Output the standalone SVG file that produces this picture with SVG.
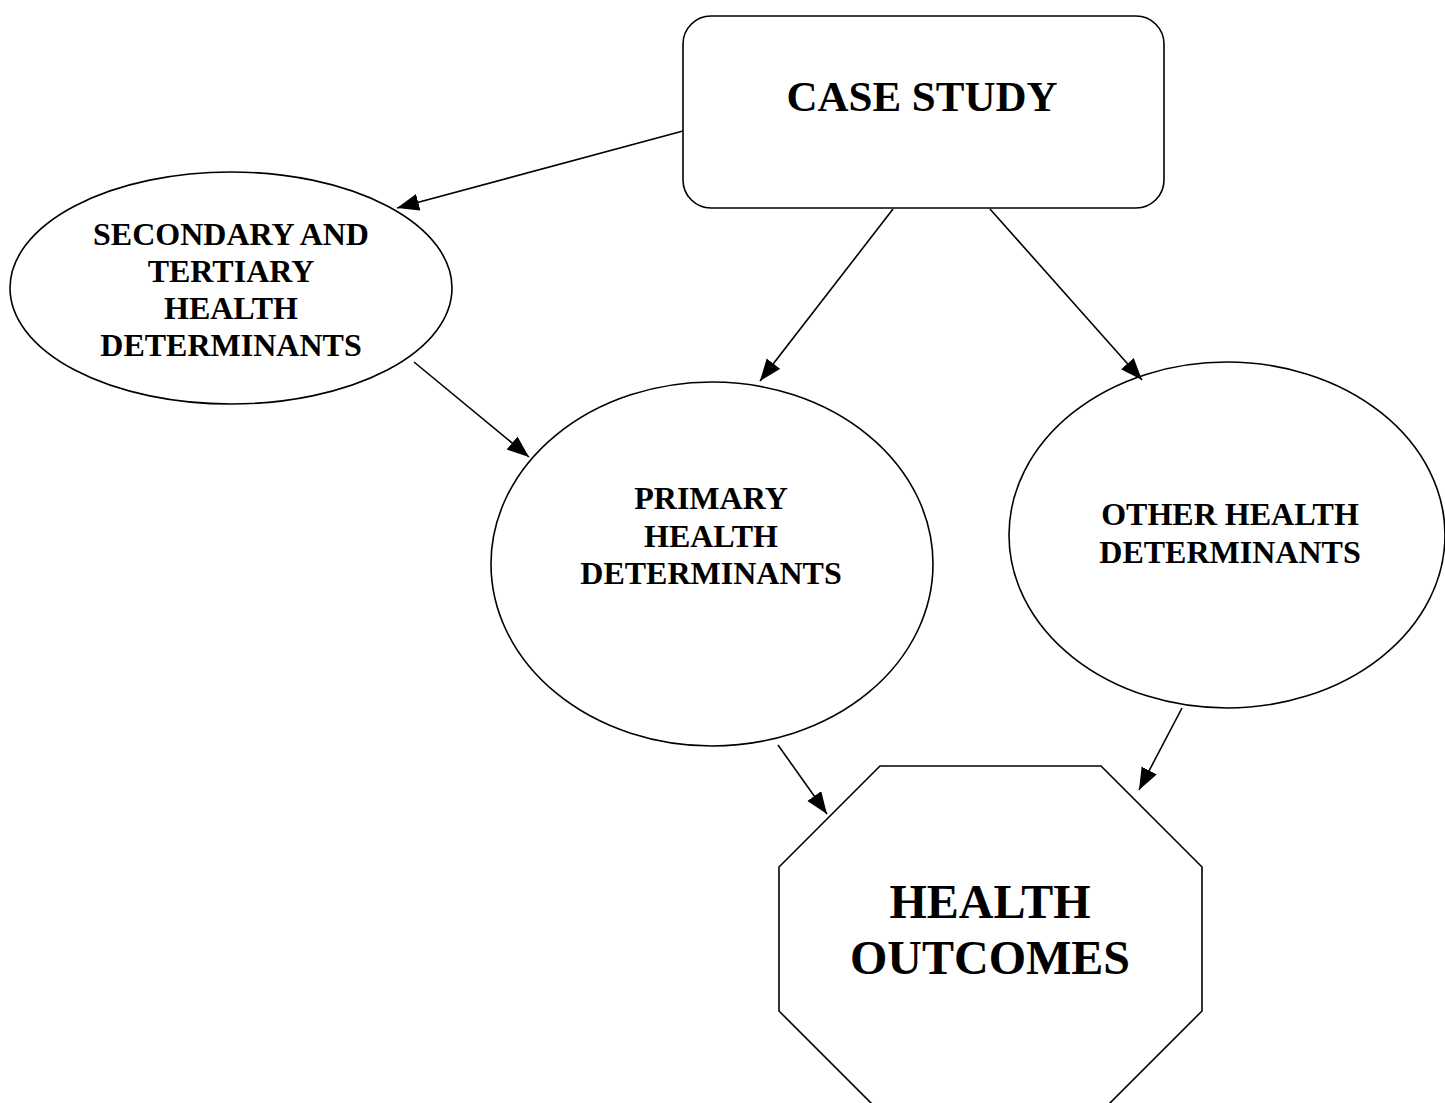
<svg xmlns="http://www.w3.org/2000/svg" width="1445" height="1103" viewBox="0 0 1445 1103">
<style>
.shape{fill:#fff;stroke:#000;stroke-width:1.6}
.lbl{font-family:"Liberation Serif","Times New Roman",serif;font-weight:bold;fill:#000;text-anchor:middle}
.mid{font-size:32px}
.conn line{stroke:#000;stroke-width:1.6}
</style>
<defs>
<marker id="ah" markerUnits="userSpaceOnUse" markerWidth="24" markerHeight="18" refX="22" refY="8.5" orient="auto">
<path d="M0,0 L22,8.5 L0,17 z" fill="#000"/>
</marker>
</defs>
<rect width="1445" height="1103" fill="#fff"/>
<g id="case-study">
<rect class="shape" x="683" y="16" width="481" height="192" rx="28" ry="28"/>
<text class="lbl" x="922" y="111" font-size="43">CASE STUDY</text>
</g>
<g id="secondary">
<ellipse class="shape" cx="231" cy="288" rx="221" ry="116"/>
<text class="lbl mid" x="231" y="245">SECONDARY AND</text>
<text class="lbl mid" x="231" y="282">TERTIARY</text>
<text class="lbl mid" x="231" y="319">HEALTH</text>
<text class="lbl mid" x="231" y="356">DETERMINANTS</text>
</g>
<g id="primary">
<ellipse class="shape" cx="712" cy="564" rx="221" ry="182"/>
<text class="lbl mid" x="711" y="509">PRIMARY</text>
<text class="lbl mid" x="711" y="547">HEALTH</text>
<text class="lbl mid" x="711" y="584">DETERMINANTS</text>
</g>
<g id="other">
<ellipse class="shape" cx="1227" cy="535" rx="218" ry="173"/>
<text class="lbl mid" x="1230" y="525">OTHER HEALTH</text>
<text class="lbl mid" x="1230" y="563">DETERMINANTS</text>
</g>
<g id="outcomes">
<polygon class="shape" points="880,766 1101,766 1202,867 1202,1011 1101,1112 880,1112 779,1011 779,867"/>
<text class="lbl" x="990" y="918" font-size="48">HEALTH</text>
<text class="lbl" x="990" y="974" font-size="48">OUTCOMES</text>
</g>
<g id="connectors" class="conn">
<line x1="683" y1="131" x2="397" y2="208" marker-end="url(#ah)"/>
<line x1="893" y1="209" x2="760" y2="381" marker-end="url(#ah)"/>
<line x1="990" y1="209" x2="1142" y2="380" marker-end="url(#ah)"/>
<line x1="414" y1="362" x2="529" y2="457" marker-end="url(#ah)"/>
<line x1="778" y1="745" x2="827" y2="814" marker-end="url(#ah)"/>
<line x1="1182" y1="708" x2="1139" y2="790" marker-end="url(#ah)"/>
</g>
</svg>
